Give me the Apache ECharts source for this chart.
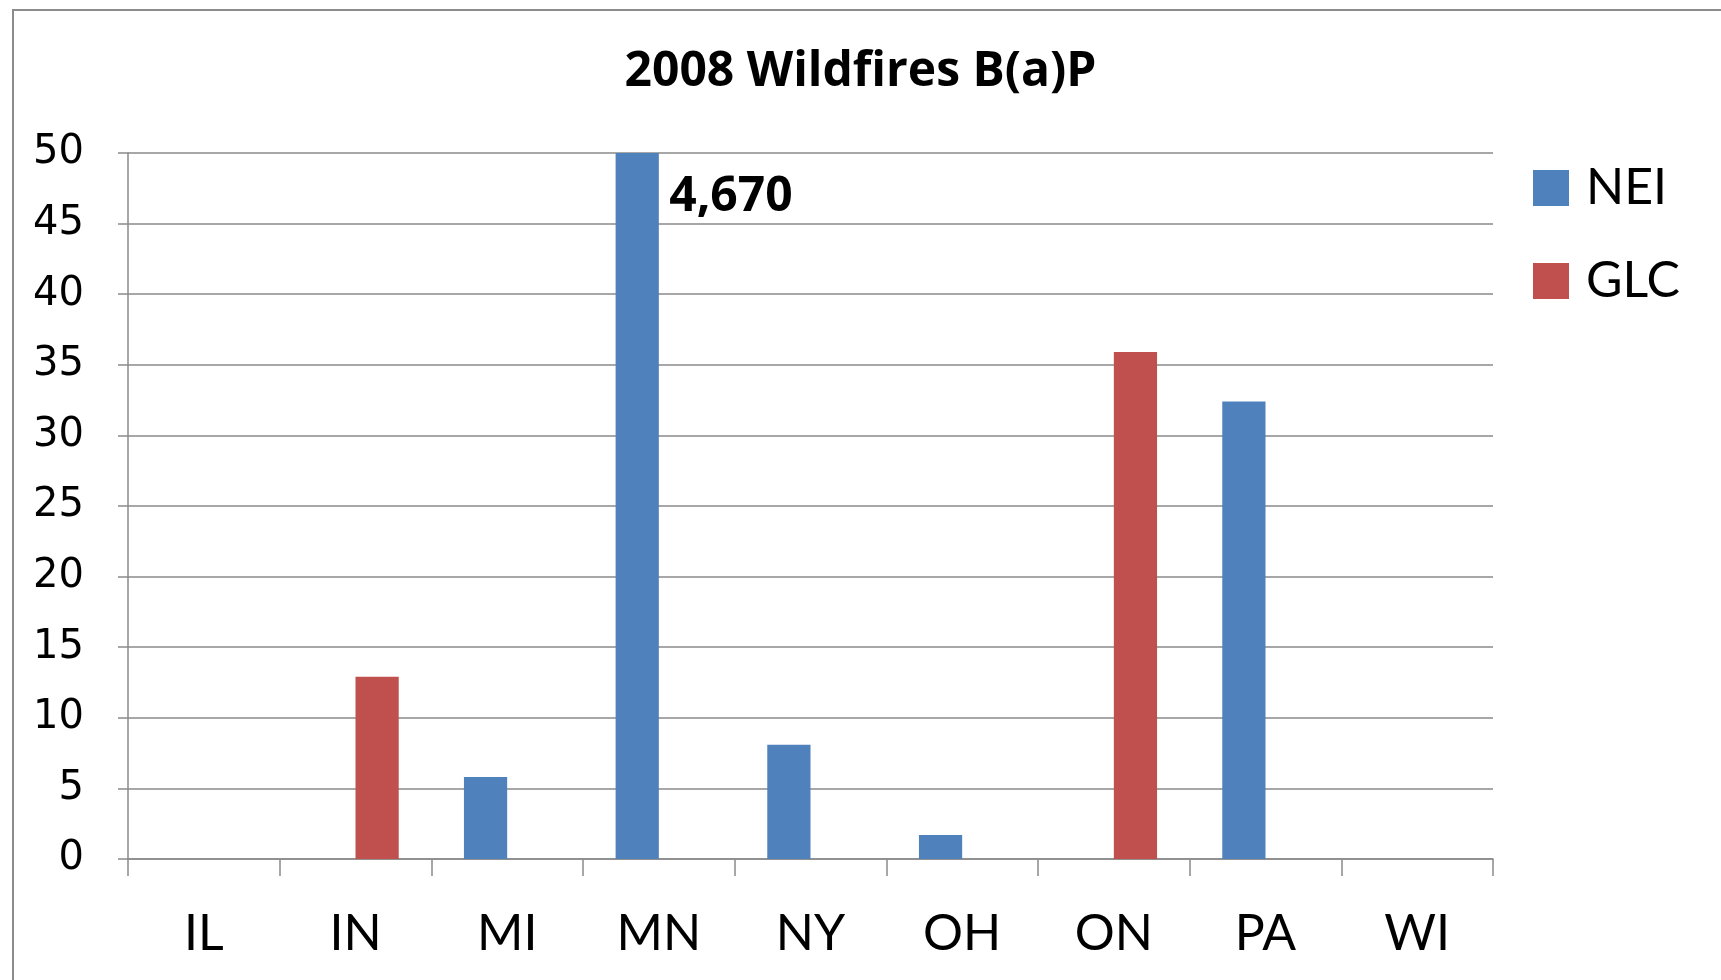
<!DOCTYPE html>
<html>
<head>
<meta charset="utf-8">
<script src="https://cdn.jsdelivr.net/npm/echarts@6/dist/echarts.min.js"></script>
<style>
  html, body { margin: 0; padding: 0; background: #ffffff; }
  #chart { width: 1721px; height: 980px; }
</style>
</head>
<body>
<div id="chart"></div>
<script>
// Benzo(a)pyrene emissions from 2008 wildfires by state / province
const categories = ['IL', 'IN', 'MI', 'MN', 'NY', 'OH', 'ON', 'PA', 'WI'];
const neiValues = [null, null, 5.8, 4670, 8.1, 1.7, null, 32.4, null];
const glcValues = [null, 12.9, null, null, null, null, 35.9, null, null];
const yTicks = [0, 5, 10, 15, 20, 25, 30, 35, 40, 45, 50];

const yMin = yTicks[0];
const yMax = yTicks[yTicks.length - 1];
const yStep = yTicks[1] - yTicks[0];

// The MN value runs far off the scale; its bar is clipped at the top and labelled
const mnIndex = categories.indexOf('MN');
const mnValue = neiValues[mnIndex];

const gridColor = '#8a8a8a';
const catFont = 'Lato, "Open Sans", sans-serif';
const boldFont = '"Open Sans", Lato, sans-serif';

const chart = echarts.init(document.getElementById('chart'));
chart.setOption({
  backgroundColor: '#ffffff',
  animation: false,
  title: {
    text: '2008 Wildfires B(a)P',
    left: 'center',
    top: 48,
    padding: 0,
    textStyle: { fontFamily: boldFont, fontWeight: 'bold', fontSize: 48, color: '#000000' }
  },
  legend: {
    orient: 'vertical',
    left: 1533,
    top: 163,
    itemWidth: 36,
    itemHeight: 36,
    itemGap: 43,
    icon: 'rect',
    padding: 0,
    textStyle: { fontFamily: catFont, fontSize: 50, color: '#000000', padding: [0, 0, 0, 12] },
    data: ['NEI', 'GLC']
  },
  graphic: [{
    type: 'rect',
    shape: { x: 13, y: 10, width: 1800, height: 1100 },
    style: { fill: 'none', stroke: '#8c8c8c', lineWidth: 2 },
    silent: true,
    z: -1
  }],
  grid: { left: 128, right: 228, top: 153, bottom: 121, containLabel: false },
  xAxis: {
    type: 'category',
    data: categories,
    axisLine: { lineStyle: { color: gridColor, width: 1.5 } },
    axisTick: { show: true, length: 17, alignWithLabel: false, lineStyle: { color: gridColor, width: 1.5 } },
    axisLabel: { margin: 50, fontFamily: catFont, fontSize: 50, color: '#000000' }
  },
  yAxis: {
    type: 'value',
    min: yMin,
    max: yMax,
    interval: yStep,
    axisLine: { show: true, lineStyle: { color: gridColor, width: 1.5 } },
    axisTick: { show: true, length: 10, lineStyle: { color: gridColor, width: 1.5 } },
    splitLine: { lineStyle: { color: gridColor, width: 1.5 } },
    axisLabel: { margin: 44, fontFamily: '"DejaVu Sans", Verdana, sans-serif', fontSize: 40, color: '#000000' }
  },
  series: [
    {
      name: 'NEI',
      type: 'bar',
      data: neiValues,
      barWidth: '28.5%',
      barGap: '0%',
      clip: true,
      itemStyle: { color: '#4f81bd' },
      markPoint: {
        symbol: 'rect',
        symbolSize: 0,
        data: [{
          coord: [mnIndex, yMax],
          value: mnValue,
          label: {
            show: true,
            position: 'right',
            distance: 0,
            offset: [32, 44],
            formatter: (p) => p.value.toLocaleString('en-US'),
            fontFamily: boldFont,
            fontWeight: 'bold',
            fontSize: 48,
            color: '#000000'
          }
        }]
      }
    },
    {
      name: 'GLC',
      type: 'bar',
      data: glcValues,
      barWidth: '28.5%',
      barGap: '0%',
      itemStyle: { color: '#c0504d' }
    }
  ]
});
</script>
</body>
</html>
